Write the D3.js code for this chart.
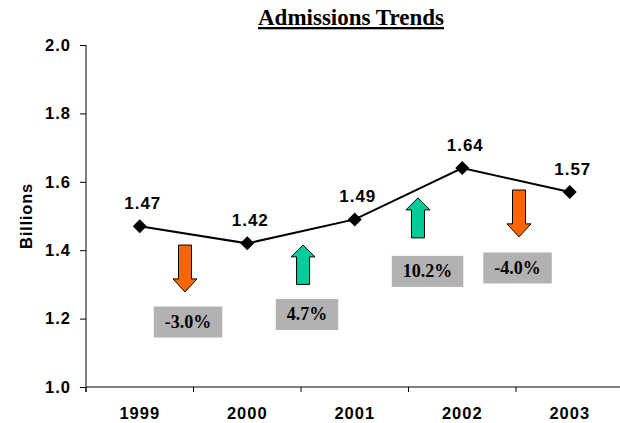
<!DOCTYPE html>
<html>
<head>
<meta charset="utf-8">
<script src="https://cdn.jsdelivr.net/npm/d3@7"></script>
<style>
  body { margin: 0; background: #fff; }
  svg { display: block; }
  .axis text { font-family: "Liberation Sans", Arial, sans-serif; font-weight: bold; font-size: 16.5px; letter-spacing: 1px; fill: #000; }
  .axis path, .axis line { stroke: #000; stroke-width: 1; }
</style>
</head>
<body>
<svg id="chart" width="620" height="423"></svg>
<script>
// chart data
const years = ['1999', '2000', '2001', '2002', '2003'];
const admissions = [1.47, 1.42, 1.49, 1.64, 1.57];
const yTicks = [1.0, 1.2, 1.4, 1.6, 1.8, 2.0];
// year-over-year change (%) shown between categories
const changes = [-3.0, 4.7, 10.2, -4.0];
// arrow extents and label box centres, in billions
const arrowFrom = [1.415, 1.30, 1.436, 1.576];
const arrowTo = [1.278, 1.415, 1.553, 1.439];
const boxAt = [1.19, 1.212, 1.338, 1.348];
// horizontal placement relative to the category boundary (fraction of a band)
const arrowShift = [-0.079, 0.019, 0.088, 0.028];
const boxShift = [-0.051, 0.056, 0.177, 0.014];

var buildChart = function() {
    const left = 86, top = 45, right = 623.5, bottom = 387;
    const svg = d3.select('#chart');

    const x = d3.scaleBand().domain(years).range([left, right]);
    const y = d3.scaleLinear().domain([1.0, 2.0]).range([bottom, top]);

    svg.append('text')
        .attr('x', 351).attr('y', 25)
        .attr('text-anchor', 'middle')
        .style('font-family', '"Liberation Serif", "Times New Roman", serif')
        .style('font-weight', 'bold')
        .style('font-size', '23px')
        .style('text-decoration', 'underline')
        .text('Admissions Trends');

    svg.append('g')
        .attr('class', 'axis')
        .attr('transform', `translate(${left},0)`)
        .call(d3.axisLeft(y).tickValues(yTicks).tickFormat(d3.format('.1f')).tickSize(6).tickPadding(9))
        .call(g => g.select('.domain').attr('d', `M0,${top}V${bottom + 5}`));

    const xAxis = svg.append('g')
        .attr('class', 'axis')
        .attr('transform', `translate(0,${bottom})`)
        .call(d3.axisBottom(x).tickSize(0).tickPadding(20))
        .call(g => g.select('.domain').attr('d', `M${left},0H${right}`));
    xAxis.selectAll('.sep')
        .data(years)
        .enter().append('line')
        .attr('x1', d => x(d)).attr('x2', d => x(d))
        .attr('y1', 0).attr('y2', 5)
        .attr('stroke', '#000');

    svg.append('text')
        .attr('transform', `translate(32,${(top + bottom) / 2}) rotate(-90)`)
        .attr('text-anchor', 'middle')
        .style('font-family', '"Liberation Sans", Arial, sans-serif')
        .style('font-weight', 'bold')
        .style('font-size', '16.5px')
        .style('letter-spacing', '0.8px')
        .text('Billions');

    const cx = (i) => x(years[i]) + x.bandwidth() / 2;

    svg.append('path')
        .datum(admissions)
        .attr('fill', 'none')
        .attr('stroke', '#000')
        .attr('stroke-width', 2)
        .attr('d', d3.line().x((d, i) => cx(i)).y(d => y(d)));

    svg.selectAll('.pt')
        .data(admissions)
        .enter().append('path')
        .attr('transform', (d, i) => `translate(${cx(i)},${y(d)})`)
        .attr('d', 'M0,-7L7,0L0,7L-7,0Z')
        .attr('fill', '#000');

    svg.selectAll('.val')
        .data(admissions)
        .enter().append('text')
        .attr('x', (d, i) => cx(i) + 3)
        .attr('y', d => y(d) - 17)
        .attr('text-anchor', 'middle')
        .style('font-family', '"Liberation Sans", Arial, sans-serif')
        .style('font-weight', 'bold')
        .style('font-size', '17px')
        .style('letter-spacing', '1px')
        .text(d => d.toFixed(2));

    // arrows + percentage boxes
    changes.forEach(function(c, i) {
        const edge = x(years[i + 1]);
        const mx = edge + arrowShift[i] * x.bandwidth();
        const y0 = y(arrowFrom[i]), y1 = y(arrowTo[i]);
        const dir = y1 > y0 ? 1 : -1;
        const len = Math.abs(y1 - y0);
        const head = Math.min(13, len * 0.3);
        const sw = 6.5, hw = 12;
        const yh = y1 - dir * head;
        const pts = [[mx - sw, y0], [mx + sw, y0], [mx + sw, yh], [mx + hw, yh],
                     [mx, y1], [mx - hw, yh], [mx - sw, yh]];
        svg.append('polygon')
            .attr('points', pts.map(p => p.join(',')).join(' '))
            .attr('fill', c < 0 ? '#FF6600' : '#00CC99')
            .attr('stroke', '#000')
            .attr('stroke-width', 1);

        const bx = edge + boxShift[i] * x.bandwidth();
        const by = y(boxAt[i]);
        const bh = 31;
        const box = svg.append('rect')
            .attr('y', by - bh / 2)
            .attr('height', bh)
            .attr('fill', '#B2B2B2');
        const t = svg.append('text')
            .attr('x', bx).attr('y', by + 6)
            .attr('text-anchor', 'middle')
            .style('font-family', '"Liberation Serif", "Times New Roman", serif')
            .style('font-weight', 'bold')
            .style('font-size', '18px')
            .text(c.toFixed(1) + '%');
        const bw = t.node().getComputedTextLength() + 22;
        box.attr('x', bx - bw / 2).attr('width', bw);
    });
};

document.addEventListener('DOMContentLoaded', function() {
    buildChart();
});
</script>
</body>
</html>
